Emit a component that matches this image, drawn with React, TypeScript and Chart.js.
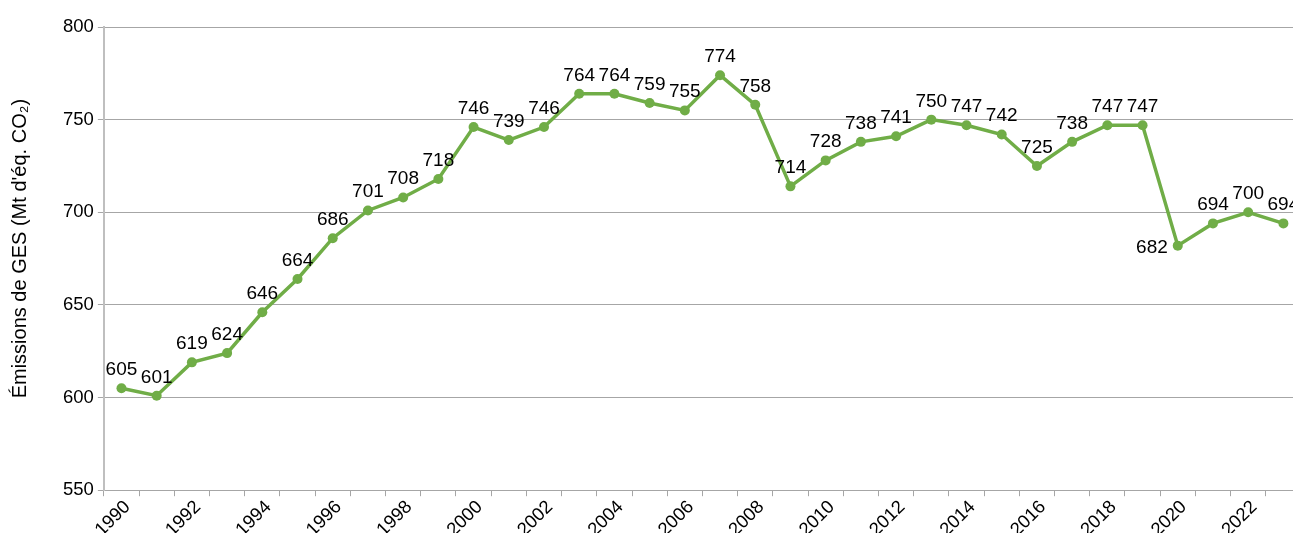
import React, { useEffect, useRef } from "react";
import { Chart, registerables } from "chart.js";

Chart.register(...registerables);

const years = [
  "1990","1991","1992","1993","1994","1995","1996","1997","1998","1999",
  "2000","2001","2002","2003","2004","2005","2006","2007","2008","2009",
  "2010","2011","2012","2013","2014","2015","2016","2017","2018","2019",
  "2020","2021","2022","2023",
];
const emissions = [
  605, 601, 619, 624, 646, 664, 686, 701, 708, 718,
  746, 739, 746, 764, 764, 759, 755, 774, 758, 714,
  728, 738, 741, 750, 747, 742, 725, 738, 747, 747,
  682, 694, 700, 694,
];
const leftLabelYears = ["2020"];
const yTicks = [550, 600, 650, 700, 750, 800];
const yTitle = "Émissions de GES (Mt d'éq. CO₂)";

const FONT = "'Liberation Sans', Arial, sans-serif";
const GREEN = "#70AD47";

const labelPlugin = {
  id: "valueLabels",
  afterDatasetsDraw(chart: any) {
    const ctx = chart.ctx;
    const meta = chart.getDatasetMeta(0);
    ctx.save();
    ctx.font = `19px ${FONT}`;
    ctx.fillStyle = "#000";
    meta.data.forEach((pt: any, i: number) => {
      const v = String(emissions[i]);
      if (leftLabelYears.includes(years[i])) {
        ctx.textAlign = "right";
        ctx.textBaseline = "middle";
        ctx.fillText(v, pt.x - 10, pt.y + 2);
      } else {
        ctx.textAlign = "center";
        ctx.textBaseline = "alphabetic";
        ctx.fillText(v, pt.x, pt.y - 13);
      }
    });
    // y-axis title
    const area = chart.chartArea;
    ctx.translate(20, (area.top + area.bottom) / 2 - 10);
    ctx.rotate(-Math.PI / 2);
    ctx.font = `20px ${FONT}`;
    ctx.textAlign = "center";
    ctx.textBaseline = "middle";
    ctx.fillText(yTitle, 0, 0);
    ctx.restore();
  },
};

export default function App() {
  const ref = useRef<HTMLCanvasElement | null>(null);
  useEffect(() => {
    if (!ref.current) return;
    const chart = new Chart(ref.current, {
      type: "line",
      data: {
        labels: years,
        datasets: [
          {
            data: emissions,
            borderColor: GREEN,
            backgroundColor: GREEN,
            borderWidth: 3.5,
            pointRadius: 5,
            pointBackgroundColor: GREEN,
            pointBorderWidth: 0,
            tension: 0,
          },
        ],
      },
      options: {
        responsive: false,
        animation: false,
        layout: { padding: { top: 27, right: 9, left: 59, bottom: 0 } },
        plugins: { legend: { display: false }, tooltip: { enabled: false } },
        scales: {
          x: {
            type: "category",
            offset: true,
            grid: {
              display: true,
              drawOnChartArea: false,
              drawTicks: true,
              tickLength: 6,
              color: "#a6a6a6",
              offset: true,
            },
            border: { display: true, color: "#a6a6a6", width: 1 },
            ticks: {
              autoSkip: false,
              maxRotation: 45,
              minRotation: 45,
              color: "#000",
              font: { family: FONT, size: 18.5 },
              padding: 0,
              labelOffset: 6,
              callback: (_v: any, i: number) => (i % 2 === 0 ? years[i] : ""),
            },
          },
          y: {
            min: 550,
            max: 800,
            afterBuildTicks: (axis: any) => {
              axis.ticks = yTicks.map((v) => ({ value: v }));
            },
            grid: {
              color: "#a6a6a6",
              lineWidth: 1,
              drawTicks: true,
              tickLength: 6,
            },
            border: { display: true, color: "#bfbfbf", width: 2 },
            ticks: {
              color: "#000",
              font: { family: FONT, size: 18.5 },
              padding: 4,
            },
          },
        },
      },
      plugins: [labelPlugin],
    });
    return () => chart.destroy();
  }, []);
  return (
    <div
      style={{
        position: "fixed",
        left: 0,
        top: 0,
        width: 1293,
        height: 533,
        overflow: "hidden",
        background: "#fff",
      }}
    >
      <canvas ref={ref} width={1310} height={541} style={{ display: "block" }} />
    </div>
  );
}
